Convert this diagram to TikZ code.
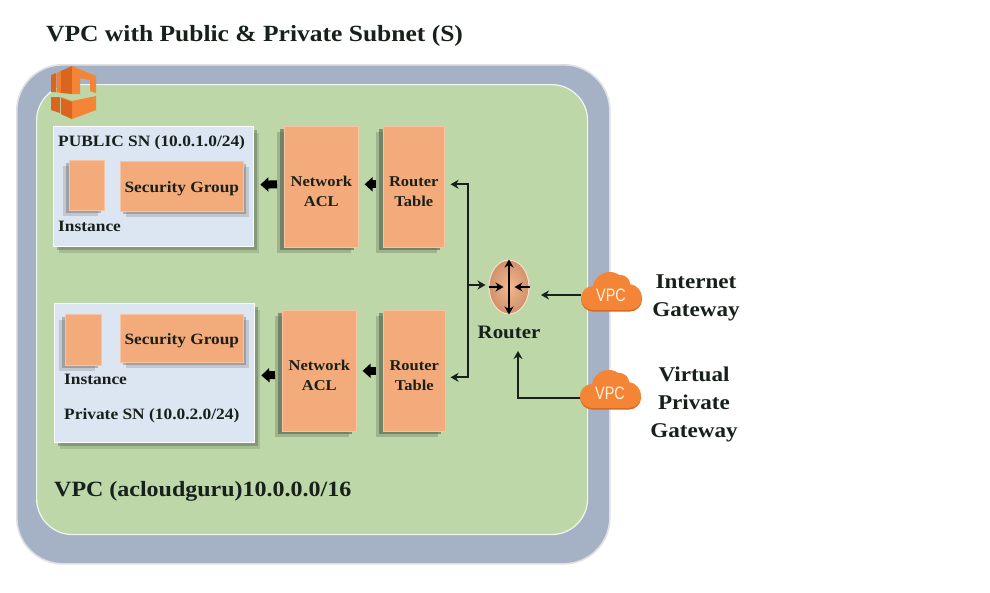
\documentclass[tikz,border=0pt]{standalone}
\usepackage{fontspec}
\setmainfont[FakeStretch=1.1]{Liberation Serif}
\setsansfont{Liberation Sans}
\newfontfamily\cloudfont[FakeStretch=.8]{Liberation Sans}
\usepackage{tikz}
\usetikzlibrary{positioning,shadows,arrows.meta,shapes.geometric}
\definecolor{VPCEdge}{HTML}{A5B1C5}
\definecolor{VPCGreen}{HTML}{BDD7A9}
\definecolor{SNBlue}{HTML}{DCE6F2}
\definecolor{BoxOrange}{HTML}{F4AB7C}
\definecolor{AWSOrange}{HTML}{F58536}
\definecolor{AWSDark}{HTML}{D9651F}
\definecolor{InkDark}{HTML}{17201A}
\newcommand{\tablestrut}{\rule{0pt}{20pt}}
% cloud with its VPC caption, #1 name, #2 centre
\newcommand{\vpccloud}[2]{
  \begin{scope}[shift={(#2)},y=1pt]
    \foreach \drop/\tone in {1.5/AWSDark,0/AWSOrange}{
      \fill[\tone,yshift=-\drop pt] (-18,-15) arc (270:90:12)
        arc (170:55:17) .. controls (16,20) and (19,15) .. (19,11)
        .. controls (26,10) and (31,4) .. (31,-3) arc (0:-90:12) -- cycle;
    }
  \end{scope}
  \node[cloudtext] (#1) at (#2) {\raisebox{-2pt}{VPC}};
}
\begin{document}
\begin{tikzpicture}[x=1pt,y=-1pt,>={Stealth[length=8pt,width=9pt]}]
  \tikzset{
    label/.style={font=\bfseries\fontsize{15.8}{17}\selectfont,text=InkDark,inner sep=0pt,align=center},
    gateway/.style={font=\bfseries\fontsize{21}{28}\selectfont,text=InkDark,inner sep=0pt,align=center},
    subnet/.style={draw=white,line width=1.4pt,fill=SNBlue,anchor=north west,inner sep=0pt,
      general shadow={shadow xshift=5pt,shadow yshift=-6pt,fill=VPCGreen!60!black,opacity=.3},
      general shadow={shadow xshift=3pt,shadow yshift=-3pt,fill=VPCGreen!50!black,opacity=.45}},
    tablebox/.style={fill=BoxOrange,draw=BoxOrange!70!white,line width=.6pt,anchor=north west,inner sep=0pt,
      font=\bfseries\fontsize{15}{19.5}\selectfont,text=InkDark,align=center,
      general shadow={shadow xshift=-7pt,shadow yshift=-6pt,fill=VPCGreen!60!black,opacity=.4},
      general shadow={shadow xshift=-4pt,shadow yshift=-3pt,fill=VPCGreen!45!black,opacity=.6}},
    instance/.style={fill=BoxOrange,draw=BoxOrange!70!white,line width=.6pt,anchor=north west,inner sep=0pt,
      general shadow={shadow xshift=-6pt,shadow yshift=-6pt,fill=black!50,opacity=.3},
      general shadow={shadow xshift=-3pt,shadow yshift=-3pt,fill=black!60,opacity=.4}},
    secgroup/.style={fill=BoxOrange,draw=BoxOrange!70!white,line width=.6pt,anchor=north west,inner sep=0pt,
      font=\bfseries\fontsize{15.7}{18}\selectfont,text=InkDark,
      execute at begin node={\rule{0pt}{15pt}},
      general shadow={shadow xshift=6pt,shadow yshift=-6pt,fill=black!50,opacity=.3},
      general shadow={shadow xshift=3pt,shadow yshift=-3pt,fill=black!60,opacity=.4}},
    fatarrow/.style={-{Triangle[length=8pt,width=14pt]},line width=8pt,black,shorten >=6pt,shorten <=7pt},
    thinarrow/.style={->,line width=2pt,InkDark},
    cloudtext/.style={text=white!90!orange,font=\cloudfont\fontsize{18}{18}\selectfont,
      minimum width=60pt,minimum height=30pt,inner sep=0pt}
  }
  \useasboundingbox (0,0) rectangle (990,592);
  \fill[white] (0,0) rectangle (990,592);
  % VPC frame
  \node[fill=VPCEdge,draw=black!12,line width=1.6pt,rounded corners=46pt,anchor=north west,inner sep=0pt,
    minimum width=593pt,minimum height=499pt] (frame) at (16,64) {};
  \node[fill=VPCGreen,draw=white!80!VPCGreen,line width=1.2pt,rounded corners=36pt,anchor=north west,inner sep=0pt,
    minimum width=551pt,minimum height=450pt] (vpc) at (36,84) {};
  \node[label,anchor=west,font=\bfseries\fontsize{23.2}{24}\selectfont] (title) at (46,36) {VPC with Public \& Private Subnet (S)};
  \node[label,anchor=west,font=\bfseries\fontsize{21.8}{24}\selectfont] (vpcname) at (54,491) {VPC (acloudguru)10.0.0.0/16};
  % AWS mark
  \fill[AWSDark] (51,75) -- (56,73) -- (56,92) -- (51,92) -- cycle;
  \fill[AWSOrange!85!AWSDark] (56.5,73) -- (61,71) -- (61,93) -- (56.5,92) -- cycle;
  \fill[AWSDark] (61,71) -- (72,66) -- (72,94) -- (61,93) -- cycle;
  \fill[AWSOrange] (72,66) -- (96,76) -- (96,93) -- (90,91) -- (90,80) -- (80,78) -- (80,94) -- (72,94) -- cycle;
  \fill[AWSDark] (51,97) -- (60,97) -- (60,113) -- (51,110) -- cycle;
  \fill[AWSOrange] (61,97) -- (72,101) -- (96,96) -- (96,110) -- (72,119) -- (61,114) -- cycle;
  \fill[AWSDark] (61,98) -- (72,102) -- (72,119) -- (61,114) -- cycle;
  % public subnet
  \node[subnet,minimum width=200pt,minimum height=120pt] (pubsn) at (53,126) {};
  \node[instance,minimum width=35pt,minimum height=50pt] (pubinst) at (69,160) {};
  \node[secgroup,minimum width=123pt,minimum height=50pt] (pubsg) at (120,161) {Security Group};
  \node[label,anchor=west] (publabel) at (58,143) {PUBLIC SN (10.0.1.0/24)};
  \node[label,anchor=west] (pubinstlabel) at (58,226) {Instance};
  \node[tablebox,minimum width=74pt,minimum height=121pt] (pubacl) at (284,126) {\tablestrut Network\\ACL};
  \node[tablebox,minimum width=61pt,minimum height=121pt] (pubrt) at (383,126) {\tablestrut Router\\Table};
  % private subnet
  \node[subnet,minimum width=200pt,minimum height=139pt] (privsn) at (54,303) {};
  \node[instance,minimum width=36pt,minimum height=51pt] (privinst) at (65,314) {};
  \node[secgroup,minimum width=123pt,minimum height=48pt] (privsg) at (120,314) {Security Group};
  \node[label,anchor=west] (privinstlabel) at (64,379) {Instance};
  \node[label,anchor=west] (privlabel) at (64,416) {Private SN (10.0.2.0/24)};
  \node[tablebox,minimum width=74pt,minimum height=121pt] (privacl) at (282,310) {\tablestrut Network\\ACL};
  \node[tablebox,minimum width=62pt,minimum height=121pt] (privrt) at (383,310) {\tablestrut Router\\Table};
  % router
  \node[ellipse,minimum width=40pt,minimum height=54pt,inner sep=0pt,inner color=BoxOrange!85!white,outer color=BoxOrange!85!black,draw=white!60!BoxOrange,line width=1pt] (router) at (509,287) {};
  \node[label,font=\bfseries\fontsize{19}{20}\selectfont] (routerlabel) at (509,332) {Router};
  \draw[<->,line width=2pt,black] (router.north) -- (router.south);
  \draw[thinarrow,black] (router.west) -- ++(15,0);
  \draw[thinarrow,black] (router.east) -- ++(-15,0);
  % gateways
  \vpccloud{igw}{611,295}
  \vpccloud{vgw}{610,393}
  \node[gateway] (igwlabel) at (696,298) {Internet\\Gateway};
  \node[gateway] (vgwlabel) at (694,404) {Virtual\\Private\\Gateway};
  % connectors
  \draw[fatarrow] ([yshift=2.5pt]pubacl.west) -- ([yshift=2pt]pubsn.east);
  \draw[fatarrow] ([yshift=2.5pt]pubrt.west) -- ([yshift=2.5pt]pubacl.east);
  \draw[fatarrow] ([yshift=-4pt]privacl.west) -- ([yshift=-2.5pt]privsn.east);
  \draw[fatarrow] (privrt.west) -- (privacl.east);
  \coordinate (busmid) at (468,285);
  \coordinate (igwin) at (541,295);
  \coordinate (vgwin) at (518,351);
  \draw[thinarrow] (busmid) -- ([xshift=-3pt]router.west |- busmid);
  \draw[thinarrow] (busmid) |- ([xshift=6pt,yshift=2.5pt]pubrt.east);
  \draw[thinarrow] (busmid) |- ([xshift=5pt,yshift=-6.5pt]privrt.east);
  \draw[thinarrow] (igw.west) -- (igwin);
  \draw[thinarrow] ([yshift=-5pt]vgw.west) -| (vgwin);
\end{tikzpicture}
\end{document}
